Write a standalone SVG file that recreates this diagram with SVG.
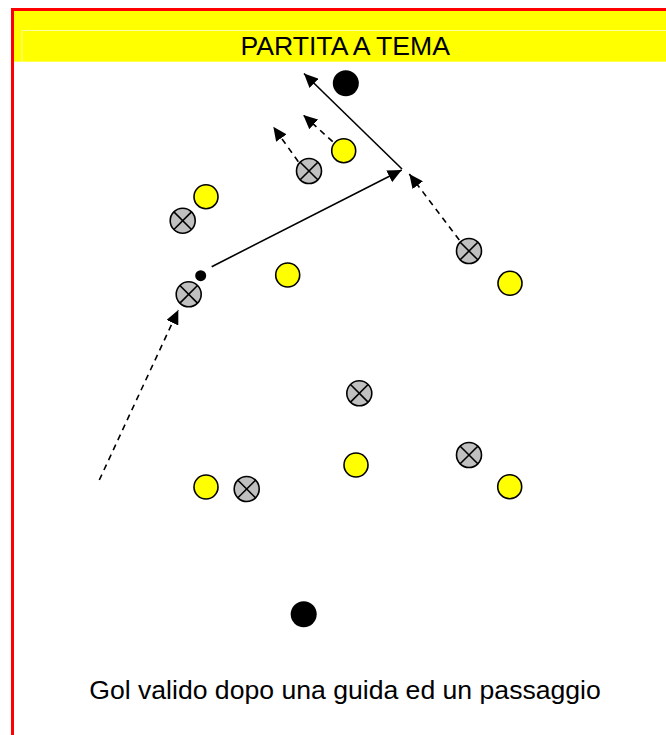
<svg xmlns="http://www.w3.org/2000/svg" width="666" height="735" viewBox="0 0 666 735">
<style>
.y{fill:#FFFF00;stroke:#000;stroke-width:1.6}
.g{fill:#C0C0C0;stroke:#000;stroke-width:1.6}
.x{stroke:#000;stroke-width:1.6}
.b{fill:#000}
.s{stroke:#000;stroke-width:1.6;fill:none}
.d{stroke:#000;stroke-width:1.6;fill:none;stroke-dasharray:6 5}
.t{font-family:"Liberation Sans",Arial,sans-serif;font-size:26.6px;fill:#000;text-anchor:middle}
</style>
<defs>
<marker id="ah" markerUnits="userSpaceOnUse" markerWidth="15" markerHeight="13" refX="14" refY="6.5" orient="auto">
<path d="M0,0 L14,6.5 L0,13 Z" fill="#000"/>
</marker>
<symbol id="gx" overflow="visible">
<circle class="g" cx="0" cy="0" r="12.5"/>
<line class="x" x1="-8.8" y1="-8.8" x2="8.8" y2="8.8"/>
<line class="x" x1="-8.8" y1="8.8" x2="8.8" y2="-8.8"/>
</symbol>
</defs>
<rect x="0" y="0" width="666" height="735" fill="#fff"/>
<g id="header">
<rect x="11" y="8" width="655" height="53.7" fill="#FFFF00"/>
<path d="M22,61.5 V30.5 H666" fill="none" stroke="#FFFFA0" stroke-width="1"/>
<rect x="11" y="8" width="655" height="3" fill="#FF0000"/>
<rect x="11" y="8" width="3" height="727" fill="#FF0000"/>
<text class="t" x="345.2" y="55">PARTITA A TEMA</text>
</g>
<g id="connectors">
<line class="s" x1="211.7" y1="266.7" x2="401.7" y2="170" marker-end="url(#ah)"/>
<line class="s" x1="402" y1="169" x2="304" y2="73.5" marker-end="url(#ah)"/>
<line class="d" x1="298.3" y1="161.7" x2="273.3" y2="126.7" marker-end="url(#ah)"/>
<line class="d" x1="332.7" y1="141.7" x2="303.3" y2="115" marker-end="url(#ah)"/>
<line class="d" x1="459.3" y1="240" x2="409.3" y2="174" marker-end="url(#ah)"/>
<line class="d" x1="99.3" y1="480" x2="178.3" y2="310" marker-end="url(#ah)"/>
</g>
<g id="ball-top"><circle class="b" cx="345.8" cy="83.3" r="13"/></g>
<g id="ball-bottom"><circle class="b" cx="303.7" cy="614.3" r="13"/></g>
<g id="ball-small"><circle class="b" cx="200.7" cy="275.7" r="5.5"/></g>
<g id="yellow-1"><circle class="y" cx="343.7" cy="150.7" r="12"/></g>
<g id="yellow-2"><circle class="y" cx="206" cy="196.7" r="12"/></g>
<g id="yellow-3"><circle class="y" cx="287.7" cy="275" r="12"/></g>
<g id="yellow-4"><circle class="y" cx="510" cy="283.3" r="12"/></g>
<g id="yellow-5"><circle class="y" cx="356" cy="465" r="12"/></g>
<g id="yellow-6"><circle class="y" cx="206" cy="487" r="12"/></g>
<g id="yellow-7"><circle class="y" cx="509.7" cy="486.7" r="12"/></g>
<g id="grey-1"><use href="#gx" x="309" y="171"/></g>
<g id="grey-2"><use href="#gx" x="182.7" y="220.7"/></g>
<g id="grey-3"><use href="#gx" x="188.7" y="294.3"/></g>
<g id="grey-4"><use href="#gx" x="469" y="251"/></g>
<g id="grey-5"><use href="#gx" x="359.3" y="393.3"/></g>
<g id="grey-6"><use href="#gx" x="469" y="455"/></g>
<g id="grey-7"><use href="#gx" x="246.7" y="489"/></g>
<g id="caption"><text class="t" x="345" y="699">Gol valido dopo una guida ed un passaggio</text></g>
</svg>
